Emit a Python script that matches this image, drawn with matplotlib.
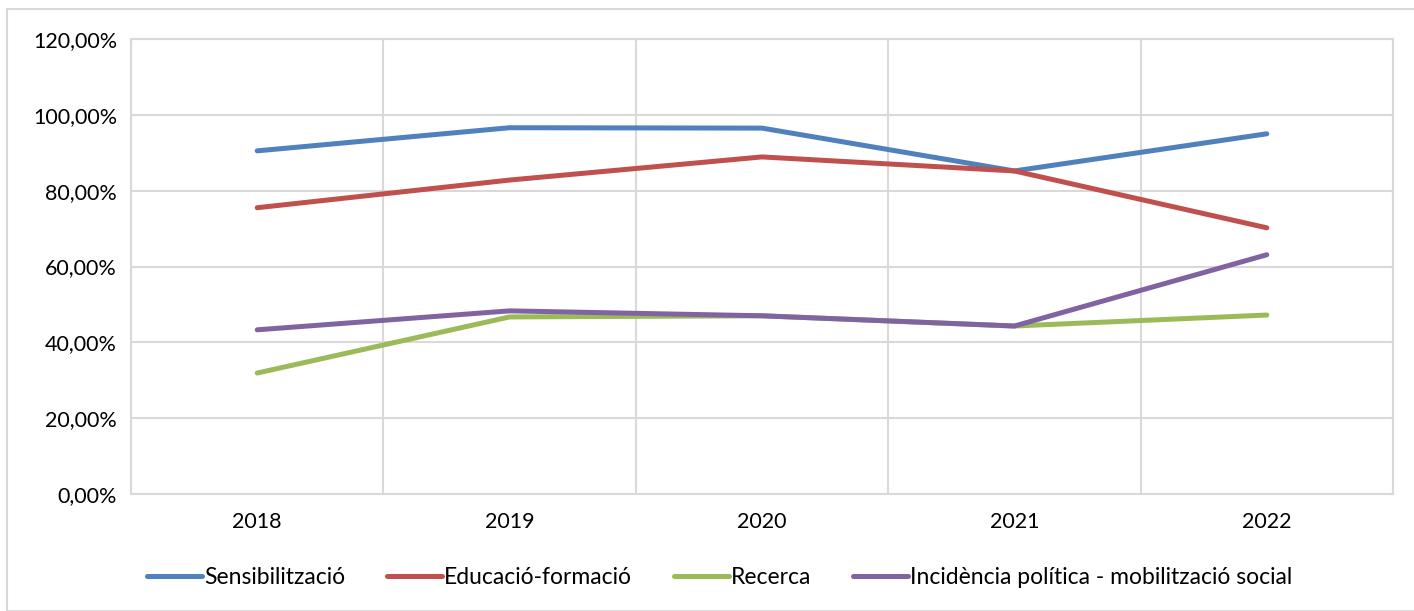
import matplotlib
matplotlib.use("Agg")
import matplotlib.pyplot as plt
from matplotlib.ticker import FuncFormatter, MultipleLocator
from matplotlib.patches import Rectangle

years = ["2018", "2019", "2020", "2021", "2022"]
sensibilitzacio = [90.5, 96.6, 96.5, 85.2, 95.0]
educacio = [75.5, 82.8, 88.9, 85.2, 70.2]
recerca = [31.9, 46.7, 47.0, 44.3, 47.2]
incidencia = [43.3, 48.3, 47.0, 44.3, 63.1]
labels = ["Sensibilització", "Educació-formació", "Recerca",
          "Incidència política - mobilització social"]
colors = ["#4F81BD", "#C0504D", "#9BBB59", "#8064A2"]

plt.rcParams['font.family'] = ['Lato', 'DejaVu Sans']

fig = plt.figure(figsize=(14.14, 6.11), dpi=100)
ax = fig.add_axes([131/1414, 1-494/611, (1393-131)/1414, (494-39)/611])

x = list(range(len(years)))
for data, lab, c in zip([sensibilitzacio, educacio, recerca, incidencia], labels, colors):
    ax.plot(x, data, color=c, lw=3.6, label=lab, solid_capstyle='round', solid_joinstyle='round', zorder=3)

ax.set_xlim(-0.5, len(years)-0.5)
ax.set_ylim(0, 120)
ax.yaxis.set_major_locator(MultipleLocator(20))
ax.yaxis.set_major_formatter(FuncFormatter(lambda v, p: f"{v:.2f}".replace('.', ',') + "%"))
ax.set_xticks(x)
ax.set_xticklabels(years)
ax.set_xticks([i + 0.5 for i in range(-1, len(years))], minor=True)
ax.grid(True, axis='y', which='major', color='#D9D9D9', lw=1.5)
ax.grid(True, axis='x', which='minor', color='#D9D9D9', lw=1.5)
ax.grid(False, axis='x', which='major')
for s in ax.spines.values():
    s.set_color('#D9D9D9')
    s.set_linewidth(1.5)
ax.tick_params(axis='both', which='both', length=0, labelsize=15.5, colors='black')
ax.tick_params(axis='x', pad=13)
ax.tick_params(axis='y', pad=10)

leg = fig.legend(loc='center', bbox_to_anchor=(0.509, 1-578/611), ncol=4, frameon=False,
                 fontsize=16.5, handlelength=2.4, handletextpad=0.1, columnspacing=1.8)

fig.patches.append(Rectangle((7/1414, 0), 1 - 7/1414 + 0.01, 1 - 9/611, transform=fig.transFigure,
                             fill=False, edgecolor='#D9D9D9', lw=1.5))

fig.savefig("out.png", dpi=100, facecolor='white')
